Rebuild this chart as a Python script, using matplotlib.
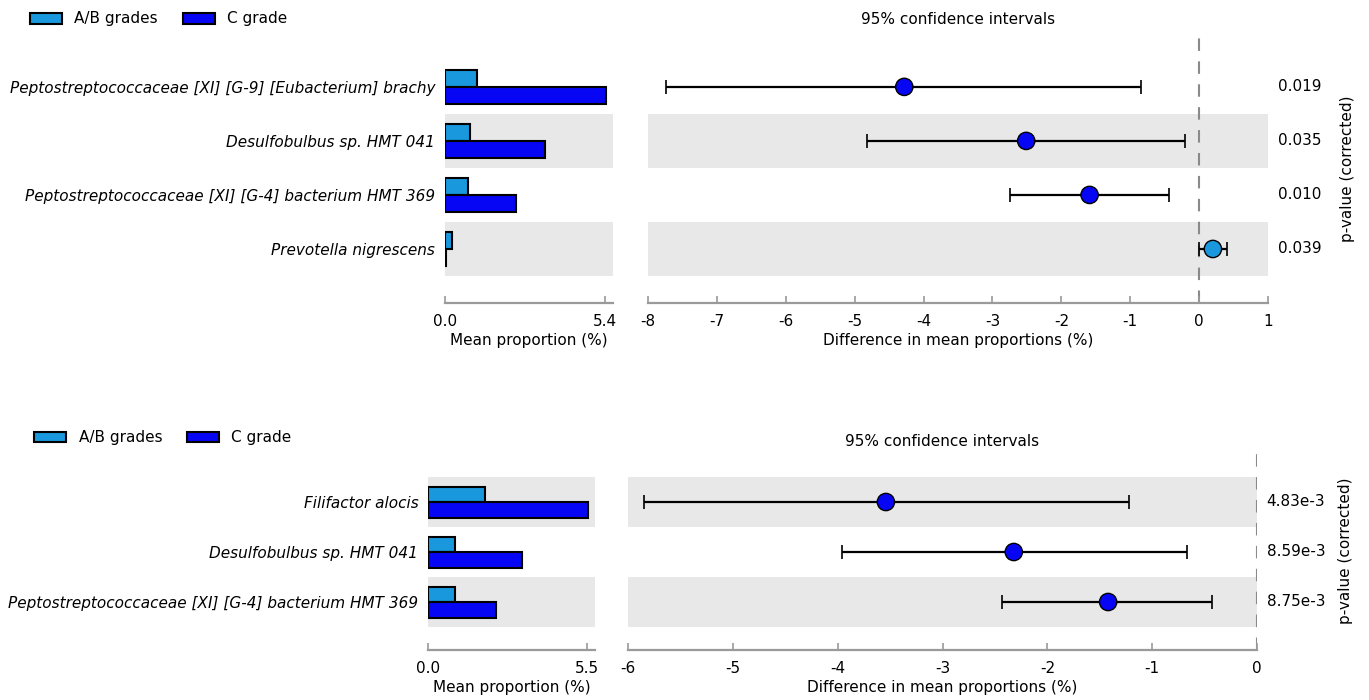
import numpy as np
import matplotlib
matplotlib.use("Agg")
import matplotlib.pyplot as plt
from matplotlib.patches import Patch

# top comparison
top_species = [
    "Peptostreptococcaceae [XI] [G-9] [Eubacterium] brachy",
    "Desulfobulbus sp. HMT 041",
    "Peptostreptococcaceae [XI] [G-4] bacterium HMT 369",
    "Prevotella nigrescens",
]
top_ab = [1.08, 0.84, 0.78, 0.22]
top_c = [5.43, 3.38, 2.40, 0.02]
top_diff = [-4.28, -2.51, -1.59, 0.20]
top_lo = [-7.74, -4.82, -2.75, 0.00]
top_hi = [-0.85, -0.20, -0.44, 0.40]
top_p = ["0.019", "0.035", "0.010", "0.039"]

# bottom comparison
bot_species = [
    "Filifactor alocis",
    "Desulfobulbus sp. HMT 041",
    "Peptostreptococcaceae [XI] [G-4] bacterium HMT 369",
]
bot_ab = [1.97, 0.93, 0.93]
bot_c = [5.53, 3.24, 2.35]
bot_diff = [-3.54, -2.32, -1.42]
bot_lo = [-5.85, -3.96, -2.43]
bot_hi = [-1.22, -0.67, -0.43]
bot_p = ["4.83e-3", "8.59e-3", "8.75e-3"]

AB_COLOR = "#1a98dd"
C_COLOR = "#0606f4"
BAND = "#e8e8e8"
AXIS_GRAY = "#9a9a9a"
FS = 11

plt.rcParams["font.family"] = "DejaVu Sans"


def style_axis(ax):
    for s in ["top", "right", "left"]:
        ax.spines[s].set_visible(False)
    ax.spines["bottom"].set_color(AXIS_GRAY)
    ax.spines["bottom"].set_linewidth(1.6)
    ax.tick_params(axis="x", direction="in", length=5, color=AXIS_GRAY,
                   width=1.2, labelsize=FS, pad=8)
    ax.tick_params(axis="y", length=0)


def draw_panel(fig, bar_rect, ci_rect, species, ab, c, diff, lo, hi, pvals,
               bar_max, bar_xlim, ci_xlim, ci_ticks, band_rows, y_top, y_bot,
               title_pad, plab_x, legend_x, legend_y):
    n = len(species)
    y = np.arange(n)
    h = 0.31

    axb = fig.add_axes(bar_rect)
    axc = fig.add_axes(ci_rect)

    for ax in (axb, axc):
        for r in band_rows:
            ax.axhspan(r - 0.5, r + 0.5, color=BAND, zorder=0, lw=0)
        ax.set_ylim(n - 1 + y_bot, -y_top)
        style_axis(ax)

    axb.barh(y - h / 2, ab, height=h, color=AB_COLOR, edgecolor="black",
             linewidth=1.5, zorder=2)
    axb.barh(y + h / 2, c, height=h, color=C_COLOR, edgecolor="black",
             linewidth=1.5, zorder=2)
    axb.set_xlim(*bar_xlim)
    axb.set_xticks([0, bar_max])
    axb.set_xticklabels(["0.0", f"{bar_max:.1f}"])
    axb.set_yticks(y)
    axb.set_yticklabels(species, fontsize=FS, style="italic")
    axb.tick_params(axis="y", pad=7)
    axb.set_xlabel("Mean proportion (%)", fontsize=FS, labelpad=3)

    diff = np.array(diff)
    err = [diff - np.array(lo), np.array(hi) - diff]
    axc.errorbar(diff, y, xerr=err, fmt="none", ecolor="black", elinewidth=1.6,
                 capsize=5, capthick=1.2, zorder=3)
    dot_colors = [AB_COLOR if d > 0 else C_COLOR for d in diff]
    axc.scatter(diff, y, s=155, c=dot_colors, edgecolors="black",
                linewidths=1.0, zorder=4)
    axc.axvline(0, color="#8a8a8a", lw=1.5, ls=(0, (6, 5)), zorder=1)
    axc.set_xlim(*ci_xlim)
    axc.set_xticks(ci_ticks)
    axc.set_xticklabels([f"{t:g}" for t in ci_ticks])
    axc.set_yticks([])
    axc.set_xlabel("Difference in mean proportions (%)", fontsize=FS, labelpad=3)
    axc.set_title("95% confidence intervals", fontsize=FS, pad=title_pad)

    for yi, p in zip(y, pvals):
        axc.annotate(p, xy=(1, yi), xycoords=("axes fraction", "data"),
                     xytext=(7, 0), textcoords="offset points",
                     ha="left", va="center", fontsize=FS)
    axc.text(plab_x, 0.5, "p-value (corrected)", transform=axc.transAxes,
             rotation=90, ha="center", va="center", fontsize=FS)

    handles = [Patch(facecolor=AB_COLOR, edgecolor="black", lw=1.5, label="A/B grades"),
               Patch(facecolor=C_COLOR, edgecolor="black", lw=1.5, label="C grade")]
    fig.legend(handles=handles, loc="center left",
               bbox_to_anchor=(legend_x, legend_y),
               ncol=2, frameon=False, fontsize=FS, handlelength=2.1,
               handleheight=0.7, handletextpad=0.8, columnspacing=1.6)


fig = plt.figure(figsize=(13.69, 7.0), dpi=100)
W, H = 1369, 700


def rect(x0, x1, y0, y1):
    return [x0 / W, 1 - y1 / H, (x1 - x0) / W, (y1 - y0) / H]


draw_panel(fig, rect(445, 613, 35, 303), rect(648, 1268, 35, 303),
           top_species, top_ab, top_c, top_diff, top_lo, top_hi, top_p,
           5.4, (0, 5.68), (-8, 1), list(range(-8, 2)), [1, 3],
           0.96, 1.0, 8, 1.129, 0.012, 1 - 19 / H)

draw_panel(fig, rect(428, 595, 452, 650), rect(628, 1257, 452, 650),
           bot_species, bot_ab, bot_c, bot_diff, bot_lo, bot_hi, bot_p,
           5.5, (0, 5.78), (-6, 0), list(range(-6, 1)), [0, 2],
           1.0, 0.96, 4, 1.141, 0.015, 1 - 438 / H)

fig.savefig("out.png", dpi=100)
